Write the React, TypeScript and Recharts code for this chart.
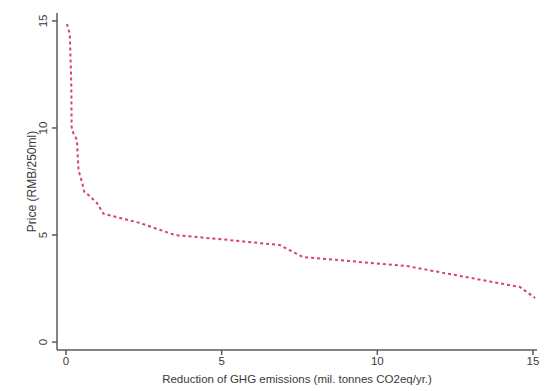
import React from "react";
import { LineChart, Line, XAxis, YAxis } from "recharts";

// reduction of GHG emissions (mil. tonnes CO2eq/yr.)
const reduction = [
  0.03, 0.12, 0.17, 0.18, 0.23, 0.35, 0.4, 0.52, 0.59, 0.72, 0.99, 1.2, 2.38,
  3.5, 5.0, 6.87, 7.61, 9.06, 10.95, 14.58, 15.07,
];
// price (RMB/250ml)
const price = [
  14.86, 14.4, 12.0, 10.05, 9.77, 9.44, 8.04, 7.43, 7.0, 6.87, 6.5, 6.0, 5.56,
  5.0, 4.8, 4.53, 3.97, 3.79, 3.55, 2.57, 2.06,
];
const xTicks = [0, 5, 10, 15];
const yTicks = [0, 5, 10, 15];

const data = reduction.map((r, i) => ({ r, p: price[i] }));

const axisColor = "#5a5a5a";
const textColor = "#3a3a3a";
const font = "'Liberation Sans', Arial, sans-serif";

function YTick({ x, y, payload }: any) {
  const tx = x - 3;
  return (
    <text
      x={tx}
      y={y}
      transform={`rotate(-90, ${tx}, ${y})`}
      textAnchor="middle"
      fontSize={11.5}
      fontFamily={font}
      fill={textColor}
    >
      {payload.value}
    </text>
  );
}

export default function App() {
  return (
    <div style={{ position: "absolute", left: 0, top: 0, width: 552, height: 391, background: "#fff" }}>
      <LineChart
        width={552}
        height={391}
        data={data}
        margin={{ top: 13, right: 15, bottom: 0, left: 0 }}
      >
        <XAxis
          type="number"
          dataKey="r"
          domain={[-0.29, 15.13]}
          ticks={xTicks}
          allowDataOverflow
          height={41}
          tickSize={5}
          tickMargin={2}
          stroke={axisColor}
          strokeWidth={1.5}
          tick={{ fontSize: 11.5, fill: textColor, fontFamily: font }}
          label={{
            value: "Reduction of GHG emissions (mil. tonnes CO2eq/yr.)",
            position: "center",
            dy: 8,
            fontSize: 11.5,
            fill: textColor,
            fontFamily: font,
          }}
        />
        <YAxis
          type="number"
          dataKey="p"
          domain={[-0.37, 15.37]}
          ticks={yTicks}
          allowDataOverflow
          width={57}
          tickSize={5}
          tickMargin={2}
          stroke={axisColor}
          strokeWidth={1.5}
          tick={<YTick />}
          label={{
            value: "Price (RMB/250ml)",
            angle: -90,
            position: "center",
            dx: 3,
            fontSize: 12,
            fill: textColor,
            fontFamily: font,
          }}
        />
        <Line
          type="linear"
          dataKey="p"
          stroke="#d9416a"
          strokeWidth={2}
          strokeDasharray="3 3"
          dot={false}
          isAnimationActive={false}
        />
      </LineChart>
    </div>
  );
}
